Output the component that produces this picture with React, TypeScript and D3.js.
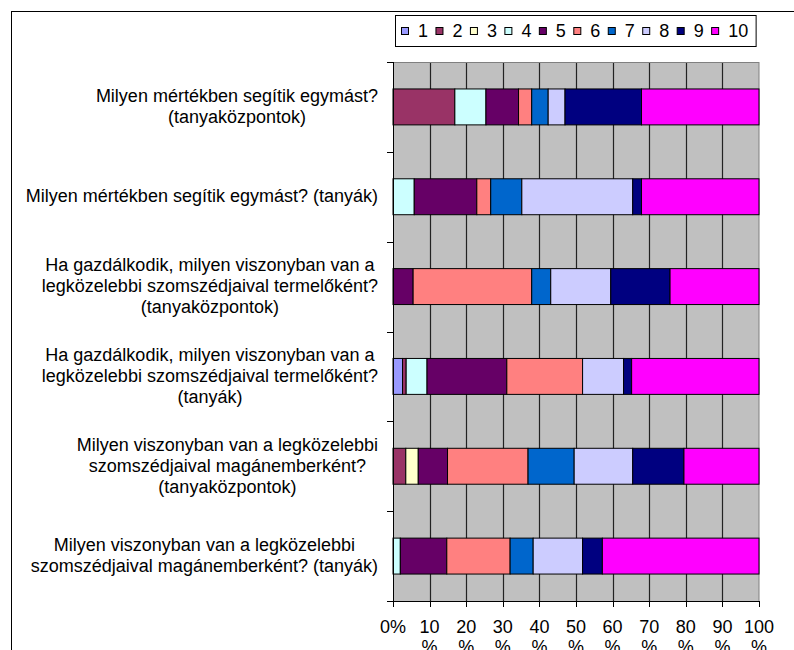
import React from 'react';
import * as d3 from 'd3';

const categories = [
  'Milyen mértékben segítik egymást? (tanyaközpontok)',
  'Milyen mértékben segítik egymást? (tanyák)',
  'Ha gazdálkodik, milyen viszonyban van a legközelebbi szomszédjaival termelőként? (tanyaközpontok)',
  'Ha gazdálkodik, milyen viszonyban van a legközelebbi szomszédjaival termelőként? (tanyák)',
  'Milyen viszonyban van a legközelebbi szomszédjaival magánemberként? (tanyaközpontok)',
  'Milyen viszonyban van a legközelebbi szomszédjaival magánemberként? (tanyák)',
];

const seriesKeys = ['1', '2', '3', '4', '5', '6', '7', '8', '9', '10'];
const s1 = [0, 0, 0, 2.6, 0, 0];
const s2 = [16.9, 0, 0, 1.0, 3.5, 0];
const s3 = [0, 0, 0, 0, 3.4, 0];
const s4 = [8.5, 5.8, 0, 5.7, 0, 2.0];
const s5 = [8.9, 17.1, 5.5, 21.8, 8.0, 12.7];
const s6 = [3.6, 3.8, 32.4, 20.7, 22.0, 17.3];
const s7 = [4.5, 8.5, 5.2, 0, 12.6, 6.3];
const s8 = [4.6, 30.3, 16.4, 11.2, 16.0, 13.5];
const s9 = [20.9, 2.4, 16.2, 2.2, 14.0, 5.4];
const s10 = [32.1, 32.1, 24.3, 34.8, 20.5, 42.8];
const seriesValues = [s1, s2, s3, s4, s5, s6, s7, s8, s9, s10];

const seriesColors = ['#9999FF', '#993366', '#FFFFCC', '#CCFFFF', '#660066', '#FF8080', '#0066CC', '#CCCCFF', '#000080', '#FF00FF'];

const xTicks = [0, 10, 20, 30, 40, 50, 60, 70, 80, 90, 100];
const xTickLabels = ['0%', '10 %', '20 %', '30 %', '40 %', '50 %', '60 %', '70 %', '80 %', '90 %', '100 %'];

const FONT_FAMILY = 'Arial, "Liberation Sans", sans-serif';
const FS = 18;

let ctx: CanvasRenderingContext2D | null = null;
function measure(t: string, size: number) {
  if (!ctx) ctx = document.createElement('canvas').getContext('2d');
  if (!ctx) return t.length * size * 0.5;
  ctx.font = `${size}px Arial, "Liberation Sans", sans-serif`;
  return ctx.measureText(t).width;
}

function wrap(t: string, maxW: number, size: number) {
  const words = t.split(' ');
  const lines: string[] = [];
  let cur = '';
  for (const w of words) {
    const cand = cur ? cur + ' ' + w : w;
    if (cur && measure(cand, size) > maxW) {
      lines.push(cur);
      cur = w;
    } else cur = cand;
  }
  if (cur) lines.push(cur);
  return lines;
}

export default function App() {
  const left = 393, right = 759, top = 62, bottom = 601;
  const x = d3.scaleLinear().domain([0, 1]).range([left, right]);
  const y = d3.scaleBand<string>().domain(categories).range([top, bottom]).paddingInner(0.6).paddingOuter(0.3);

  const rows = categories.map((c, i) => {
    const r: any = { cat: c };
    seriesKeys.forEach((k, j) => (r[k] = seriesValues[j][i]));
    return r;
  });
  const stacked = d3.stack<any>().keys(seriesKeys).offset(d3.stackOffsetExpand)(rows);

  const step = y.step();
  const boundaries = d3.range(categories.length + 1).map((k) => top + k * step);

  // legend layout
  let lx = 401;
  const legendItems = seriesKeys.map((k, i) => {
    const item = { k, x: lx, color: seriesColors[i] };
    lx += 17 + measure(k, FS) + 7.45;
    return item;
  });
  const legendRight = lx;

  const labelRight = 378;

  return (
    <svg width={794} height={650} style={{ position: 'absolute', left: 0, top: 0, background: '#fff' }} fontFamily={FONT_FAMILY}>
      <rect x={11.5} y={11.5} width={900} height={900} fill="#fff" stroke="#000" strokeWidth={1} />

      {/* plot background */}
      <rect x={left} y={top} width={right - left} height={bottom - top} fill="#C0C0C0" />

      {/* gridlines */}
      {xTicks.slice(1, -1).map((t) => (
        <line key={t} x1={Math.round(x(t / 100)) + 0.5} x2={Math.round(x(t / 100)) + 0.5} y1={top} y2={bottom} stroke="#222" strokeWidth={1.2} />
      ))}

      {/* plot border */}
      <rect x={left + 0.5} y={top + 0.5} width={right - left - 0.5} height={bottom - top} fill="none" stroke="#808080" strokeWidth={1} />

      {/* bars */}
      {stacked.map((layer, si) =>
        layer.map((d, ci) => {
          const w = x(d[1]) - x(d[0]);
          if (w <= 0.01) return null;
          return (
            <rect
              key={`${si}-${ci}`}
              x={x(d[0])}
              y={y(categories[ci])!}
              width={w}
              height={y.bandwidth()}
              fill={seriesColors[si]}
              stroke="#000"
              strokeWidth={1}
            />
          );
        })
      )}

      {/* axes */}
      <line x1={left + 0.5} x2={left + 0.5} y1={top} y2={bottom} stroke="#000" />
      <line x1={left} x2={right + 1} y1={bottom + 0.5} y2={bottom + 0.5} stroke="#000" />
      {boundaries.map((b, i) => (
        <line key={i} x1={left - 6} x2={left} y1={Math.round(b) + 0.5} y2={Math.round(b) + 0.5} stroke="#000" />
      ))}
      {xTicks.map((t) => (
        <line key={t} x1={Math.round(x(t / 100)) + 0.5} x2={Math.round(x(t / 100)) + 0.5} y1={bottom} y2={bottom + 6} stroke="#000" />
      ))}

      {/* x tick labels */}
      {xTicks.map((t, i) => {
        const lines = xTickLabels[i].split(' ');
        return (
          <text key={t} x={x(t / 100)} y={633} textAnchor="middle" fontSize={FS} fill="#000">
            {lines.map((l, j) => (
              <tspan key={j} x={x(t / 100)} dy={j === 0 ? 0 : 20}>
                {l}
              </tspan>
            ))}
          </text>
        );
      })}

      {/* category labels */}
      {categories.map((c) => {
        const lines = wrap(c, 362, FS);
        const maxW = Math.max(...lines.map((l) => measure(l, FS)));
        const cx = labelRight - maxW / 2;
        const center = y(c)! + y.bandwidth() / 2;
        const n = lines.length;
        return (
          <text key={c} textAnchor="middle" fontSize={FS} fill="#000">
            {lines.map((l, i) => (
              <tspan key={i} x={cx} y={center + (i - (n - 1) / 2) * 21 + 5.5}>
                {l}
              </tspan>
            ))}
          </text>
        );
      })}

      {/* legend */}
      <rect x={395.5} y={15.5} width={legendRight - 395} height={31} fill="#fff" stroke="#000" />
      {legendItems.map((it) => (
        <g key={it.k}>
          <rect x={it.x + 0.5} y={27.5} width={7} height={7} fill={it.color} stroke="#000" />
          <text x={it.x + 17} y={37} fontSize={FS} fill="#000">
            {it.k}
          </text>
        </g>
      ))}
    </svg>
  );
}
